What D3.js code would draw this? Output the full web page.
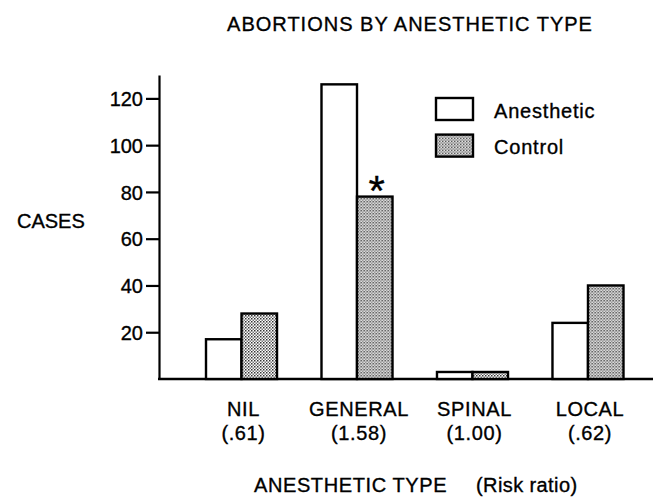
<!DOCTYPE html>
<html>
<head>
<meta charset="utf-8">
<script src="https://cdn.jsdelivr.net/npm/d3@7"></script>
<style>
  html, body { margin: 0; padding: 0; background: #fff; }
  text { font-family: "Liberation Sans", Arial, Helvetica, sans-serif; fill: #000; stroke: #000; stroke-width: 0.35px; }
</style>
</head>
<body>
<svg id="chart" width="659" height="497"></svg>
<script>
// ---- data ----
const categories = ["NIL", "GENERAL", "SPINAL", "LOCAL"];
const riskRatios = ["(.61)", "(1.58)", "(1.00)", "(.62)"];
const series = ["Anesthetic", "Control"];
const anesthetic = [17, 126, 3, 24];
const control = [28, 78, 3, 40];
const yTicks = [20, 40, 60, 80, 100, 120];
const significant = ["GENERAL"]; // asterisk on control bar

const svg = d3.select("#chart");

// pattern for control bars
const defs = svg.append("defs");
const pat = defs.append("pattern")
  .attr("id", "stipple").attr("patternUnits", "userSpaceOnUse")
  .attr("width", 3).attr("height", 3);
pat.append("rect").attr("width", 3).attr("height", 3).attr("fill", "#fff");
pat.append("rect").attr("x", 0).attr("y", 0).attr("width", 1.5).attr("height", 1.5).attr("fill", "#333");
pat.append("rect").attr("x", 1.5).attr("y", 1.5).attr("width", 1.5).attr("height", 1.5).attr("fill", "#777");

// scales
const y = d3.scaleLinear().domain([0, 130]).range([379, 75]);
const x = d3.scaleBand().domain(categories).range([159, 670.5])
  .paddingInner(0.385).paddingOuter(0.407);
const xs = d3.scaleBand().domain(series).range([0, x.bandwidth()]);

// title
svg.append("text").attr("x", 410).attr("y", 31).attr("text-anchor", "middle")
  .style("font-size", "20px").style("letter-spacing", "1px")
  .text("ABORTIONS BY ANESTHETIC TYPE");

// y axis
const yAxis = d3.axisLeft(y).tickValues(yTicks).tickSize(13).tickPadding(3).tickSizeOuter(0);
const gy = svg.append("g").attr("transform", "translate(159,0)").call(yAxis);
gy.select(".domain").attr("stroke", "#000").attr("stroke-width", 2.2);
gy.selectAll(".tick line").attr("stroke", "#000").attr("stroke-width", 2.2);
gy.selectAll(".tick text").style("font-size", "20px")
  .attr("font-family", null).attr("dy", "0.36em");

svg.append("text").attr("x", 17).attr("y", 228).style("font-size", "20px").text("CASES");

// baseline
svg.append("line").attr("x1", 158).attr("x2", 653).attr("y1", y(0)).attr("y2", y(0))
  .attr("stroke", "#000").attr("stroke-width", 2.4);

// bars
const rows = categories.map((c, i) => ({ cat: c, vals: [anesthetic[i], control[i]] }));
const groups = svg.append("g").selectAll("g").data(rows).join("g")
  .attr("transform", d => `translate(${x(d.cat)},0)`);
groups.selectAll("rect").data(d => d.vals.map((v, j) => ({ s: series[j], v })))
  .join("rect")
  .attr("x", d => xs(d.s))
  .attr("y", d => y(d.v))
  .attr("width", xs.bandwidth())
  .attr("height", d => y(0) - y(d.v))
  .attr("fill", d => d.s === "Control" ? "url(#stipple)" : "#fff")
  .attr("stroke", "#000").attr("stroke-width", 2.4);

// asterisk
significant.forEach(c => {
  const i = categories.indexOf(c);
  svg.append("text")
    .attr("x", x(c) + xs("Control") + xs.bandwidth() / 2 + 2)
    .attr("y", y(control[i]) + 8)
    .attr("text-anchor", "middle").style("font-size", "42px").text("*");
});

// category labels
categories.forEach((c, i) => {
  const cx = x(c) + x.bandwidth() / 2 + 2;
  svg.append("text").attr("x", cx).attr("y", 416).attr("text-anchor", "middle")
    .style("font-size", "20px").style("letter-spacing", "0.6px").text(c);
  svg.append("text").attr("x", cx).attr("y", 440).attr("text-anchor", "middle")
    .style("font-size", "20px").style("letter-spacing", "0.6px").text(riskRatios[i]);
});

// axis title
svg.append("text").attr("x", 254).attr("y", 492).style("font-size", "20px")
  .style("letter-spacing", "0.6px").text("ANESTHETIC TYPE");
svg.append("text").attr("x", 476).attr("y", 492).style("font-size", "20px")
  .style("letter-spacing", "0.4px").text("(Risk ratio)");

// legend
const legend = svg.append("g").attr("transform", "translate(436,98)");
series.forEach((s, j) => {
  const g = legend.append("g").attr("transform", `translate(0,${j * 36.6})`);
  g.append("rect").attr("width", 37).attr("height", 22)
    .attr("fill", s === "Control" ? "url(#stipple)" : "#fff")
    .attr("stroke", "#000").attr("stroke-width", 2.4);
  g.append("text").attr("x", 58).attr("y", 19.5).style("font-size", "20px")
    .style("letter-spacing", "0.8px").text(s);
});
</script>
</body>
</html>
